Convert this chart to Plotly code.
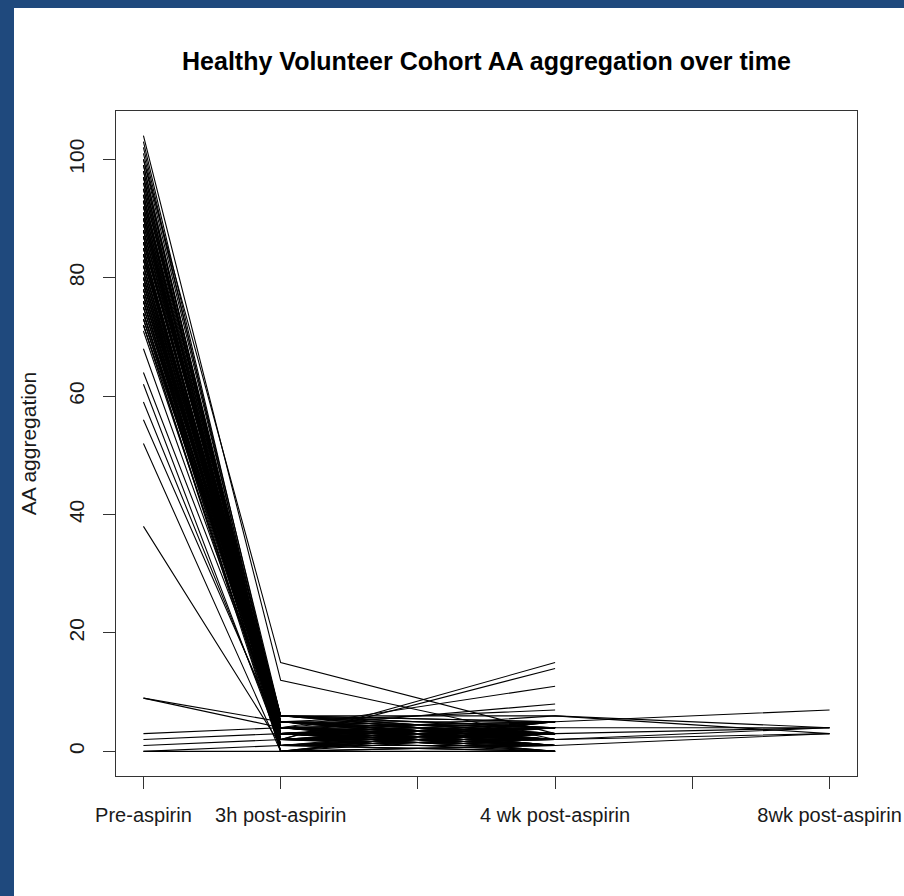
import plotly.graph_objects as go

# Time points (x positions 1..6) and their tick labels
tick_positions = [1, 2, 3, 4, 5, 6]
tick_labels = ["Pre-aspirin", "3h post-aspirin", "", "4 wk post-aspirin", "", "8wk post-aspirin"]
time_x = [1, 2, 4, 6]

# AA aggregation per subject at each time point (None = not measured)
pre = [104, 103, 102, 101, 100, 99, 98, 97, 96, 95,
       94, 93, 92, 91, 90, 90, 89, 88, 88, 87,
       86, 86, 85, 84, 84, 83, 82, 82, 81, 80,
       80, 79, 79, 78, 78, 77, 77, 76, 76, 75,
       75, 74, 74, 73, 73, 72, 72, 71, 68, 64,
       62, 59, 56, 52, 38, 9, 9, 3, 2, 1,
       0, 0, 96, 94, 92, 89, 87, 85, 83, 81,
       79, 77, 83, 91, 86, 93, 74, 88, 76, 97,
       99, 98, 95, 93, 92, 91, 90, 89, 88, 87,
       86, 85, 84, 83, 82, 81, 80, 79, 78, 77,
       76, 75, 74, 73, 72, 95, 90, 87, 84, 82,
       80, 78, 76, 100, 97, 94, 91, 85, 81, 79]
h3 = [12, 5, 4, 6, 15, 3, 5, 2, 4, 6,
      1, 3, 5, 2, 4, 3, 6, 1, 5, 2,
      4, 3, 0, 5, 2, 4, 3, 6, 1, 5,
      2, 4, 3, 0, 5, 2, 6, 1, 4, 3,
      5, 2, 0, 4, 3, 1, 5, 2, 3, 4,
      1, 2, 3, 0, 1, 5, 4, 4, 3, 2,
      1, 0, 3, 4, 2, 5, 3, 1, 4, 2,
      5, 3, 6, 1, 4, 2, 3, 4, 5, 3,
      2, 4, 3, 5, 1, 4, 2, 3, 6, 0,
      5, 3, 2, 4, 1, 6, 3, 2, 4, 5,
      1, 3, 4, 2, 0, 6, 5, 3, 1, 4,
      2, 6, 3, 5, 4, 1, 3, 2, 5, 4]
wk4 = [2, 3, 2, 5, 3, 1, 4, 2, 3, 5,
       2, 4, 1, 3, 0, 2, 4, 3, 5, 1,
       2, 6, 1, 3, 15, 2, 4, 3, 0, 2,
       14, 5, 1, 3, 2, 4, 6, 2, 11, 1,
       3, 5, 0, 8, 2, 4, 7, 1, 3, 2,
       0, 4, 1, 5, 3, 4, 2, 3, 1, 4,
       2, 1, 2, 1, 3, 2, 4, 2, 5, 3,
       1, 0, 4, 3, 2, 5, 1, 4, 2, 1,
       3, 1, 4, 2, 5, 0, 3, 1, 2, 4,
       3, 5, 1, 2, 4, 3, 0, 5, 1, 2,
       3, 4, 2, 1, 5, 3, 2, 4, 1, 3,
       0, 2, 5, 4, 1, 3, 2, 4, 1, 5]
wk8 = [None, None, None, None, None, None, None, None, None, None,
       None, None, None, None, None, None, None, None, None, None,
       None, 4, None, None, None, None, 4, None, None, None,
       None, 7, None, None, None, None, 3, None, None, None,
       4, None, None, None, 3, None, None, 3, None, 4,
       None, None, None, None, None, None, None, None, None, None,
       None, None, None, None, None, None, None, None, None, None,
       None, None, None, None, None, None, None, None, None, None,
       None, None, None, None, None, None, None, None, None, None,
       None, None, None, None, None, None, None, None, None, None,
       None, None, None, None, None, None, None, None, None, None,
       None, None, None, None, None, None, None, None, None, None]

fig = go.Figure()
for a, b, c, d in zip(pre, h3, wk4, wk8):
    fig.add_trace(go.Scatter(
        x=time_x, y=[a, b, c, d], mode="lines",
        line=dict(color="black", width=1.1), connectgaps=False,
        showlegend=False, hoverinfo="skip"))

W, H = 904, 896
L, R, T, B = 116, 47, 111, 120
pw, ph = W - L - R, H - T - B
blue = "#1F497D"

shapes = [
    dict(type="rect", xref="paper", yref="paper", layer="above",
         x0=-L / pw - 0.01, x1=(14 - L) / pw, y0=-B / ph - 0.02, y1=1 + T / ph + 0.02,
         fillcolor=blue, line=dict(width=0)),
    dict(type="rect", xref="paper", yref="paper", layer="above",
         x0=-L / pw - 0.01, x1=1 + R / pw + 0.01, y0=1 + (T - 8) / ph, y1=1 + T / ph + 0.02,
         fillcolor=blue, line=dict(width=0)),
]

font = "Liberation Sans, Arial, sans-serif"
fig.update_layout(
    width=W, height=H,
    margin=dict(l=L, r=R, t=T, b=B, pad=0),
    paper_bgcolor="white", plot_bgcolor="white",
    font=dict(family=font, size=21, color="#1a1a1a"),
    title=dict(text="<b>Healthy Volunteer Cohort AA aggregation over time</b>",
               x=(L + pw / 2) / W, xanchor="center", y=1 - 61 / H, yanchor="middle",
               yref="container", font=dict(size=25, color="black")),
    shapes=shapes,
    xaxis=dict(range=[0.8, 6.2], tickmode="array", tickvals=tick_positions, ticktext=tick_labels,
               showgrid=False, zeroline=False, showline=True, mirror=True,
               linecolor="#333", linewidth=1, ticks="outside", ticklen=12,
               tickcolor="#333", tickwidth=1, tickangle=0, tickfont=dict(size=20),
               ticklabelstandoff=9, ticklabeloverflow="allow", automargin=False),
    yaxis=dict(range=[-4.16, 108.16], tickmode="array", tickvals=[0, 20, 40, 60, 80, 100],
               showgrid=False, zeroline=False, showline=True, mirror=True,
               linecolor="#333", linewidth=1, ticks="outside", ticklen=12,
               tickcolor="#333", tickwidth=1, tickangle=-90, ticklabelstandoff=11,
               automargin=False,
               title=dict(text="AA aggregation", standoff=22, font=dict(size=21))),
)

fig.write_html("out.html", post_script="document.body.style.overflow='hidden';")
